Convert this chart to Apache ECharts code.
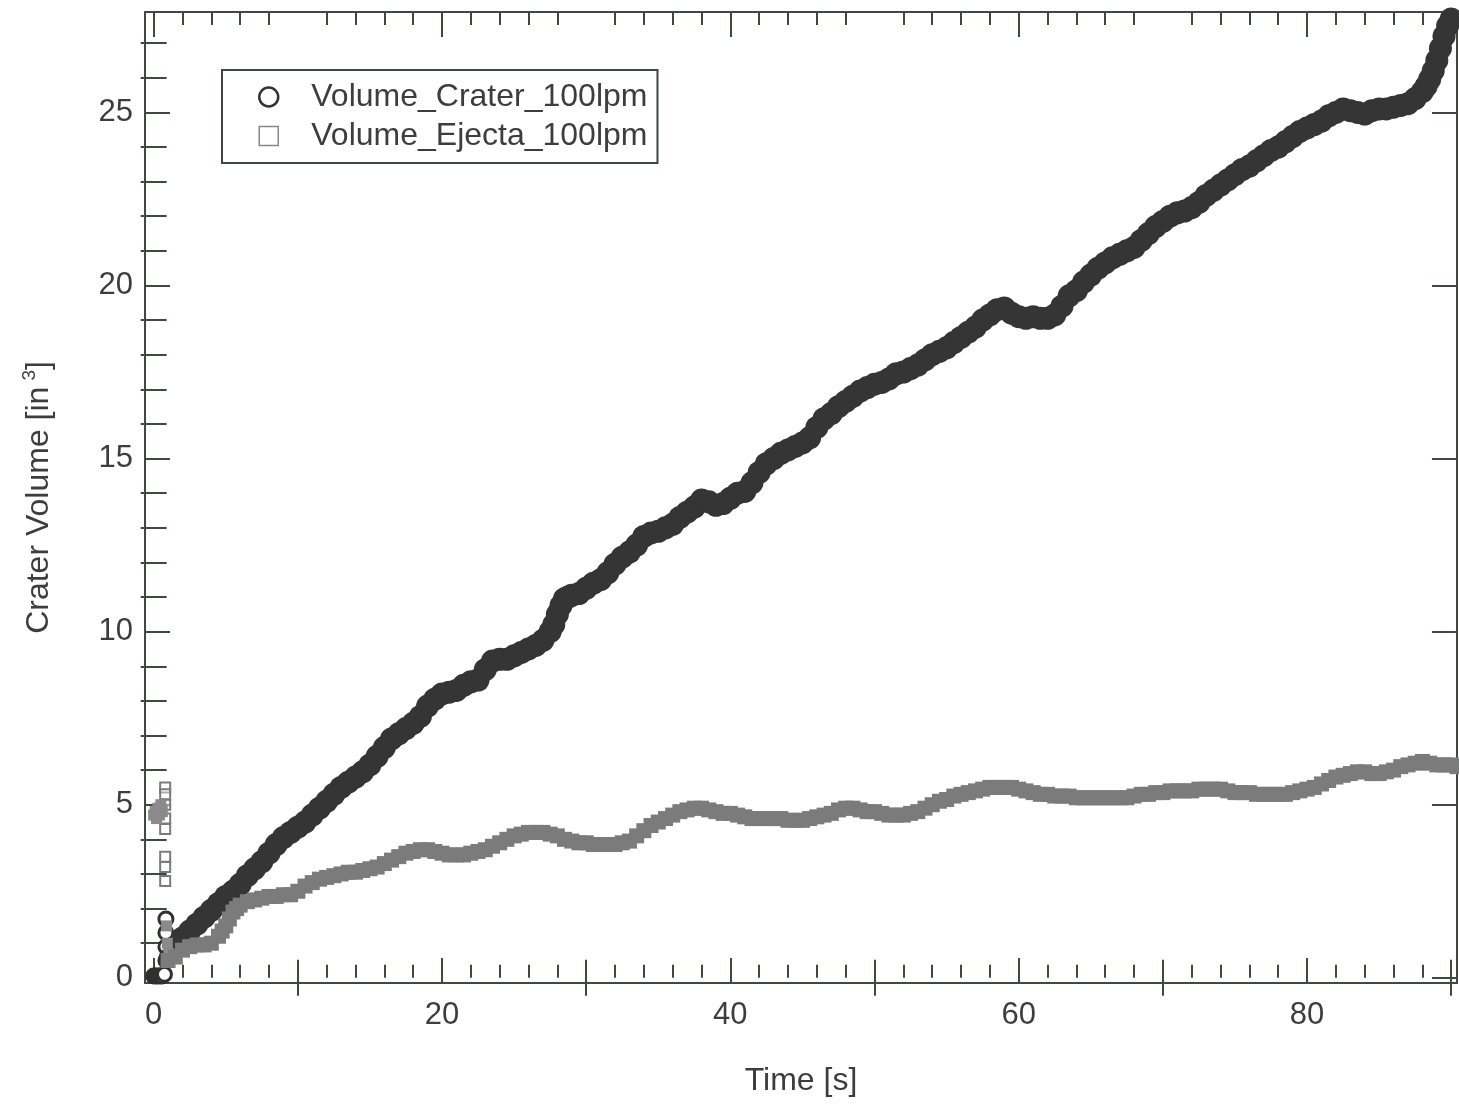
<!DOCTYPE html>
<html>
<head>
<meta charset="utf-8">
<script src="https://cdn.jsdelivr.net/npm/echarts@6/dist/echarts.min.js"></script>
<style>
  html, body { margin: 0; padding: 0; background: #ffffff; }
  #chart { width: 1459px; height: 1104px; }
</style>
</head>
<body>
<div id="chart"></div>
<script>
// first readings near t = 0 (drawn as open markers)
var craterStartT = [0, 0.15, 0.3, 0.45, 0.6, 0.75, 0.85, 0.85, 0.85, 0.85, 0.95];
var craterStartV = [0.05, 0.05, 0.05, 0.05, 0.05, 0.1, 0.5, 0.9, 1.3, 1.7, 0.6];
var ejectaStartT = [0.8, 0.8, 0.8, 0.8, 0.8, 0.8, 0.8, 0.8];
var ejectaStartV = [5.5, 5.3, 5.0, 4.6, 4.3, 3.5, 3.2, 2.8];
// filled cluster just after t = 0
var ejectaClusterT = [0, 0.1, 0.2, 0.3, 0.4, 0.5, 0.6, 0.9, 0.95, 1.05];
var ejectaClusterV = [4.7, 4.8, 4.6, 4.9, 4.7, 5.0, 4.8, 1.5, 1.0, 0.7];

// crater volume readings (time [s], volume [in^3])
var craterT = [1.5, 2, 2.5, 3, 3.5, 4, 4.5, 5, 5.5, 6, 6.5, 7, 7.5, 8, 8.5, 9, 9.5, 10,
  10.5, 11, 11.5, 12, 12.5, 13, 13.5, 14, 14.5, 15, 15.5, 16, 16.5, 17, 17.5, 18, 18.5, 19, 19.5, 20,
  20.5, 21, 21.5, 22, 22.5, 23, 23.5, 24, 24.5, 25, 25.5, 26, 26.5, 27, 27.5, 27.75, 28, 28.25, 28.5, 28.75, 29, 29.5, 30,
  30.5, 31, 31.5, 32, 32.5, 33, 33.5, 34, 34.5, 35, 35.5, 36, 36.5, 37, 37.5, 38, 38.5, 39, 39.5, 40,
  40.5, 41, 41.5, 42, 42.5, 43, 43.5, 44, 44.5, 45, 45.5, 46, 46.5, 47, 47.5, 48, 48.5, 49, 49.5, 50,
  50.5, 51, 51.5, 52, 52.5, 53, 53.5, 54, 54.5, 55, 55.5, 56, 56.5, 57, 57.5, 58, 58.5, 59, 59.5, 60,
  60.5, 61, 61.5, 62, 62.5, 63, 63.5, 64, 64.5, 65, 65.5, 66, 66.5, 67, 67.5, 68, 68.5, 69, 69.5, 70,
  70.5, 71, 71.5, 72, 72.5, 73, 73.5, 74, 74.5, 75, 75.5, 76, 76.5, 77, 77.5, 78, 78.5, 79, 79.5, 80,
  80.5, 81, 81.5, 82, 82.5, 83, 83.5, 84, 84.5, 85, 85.5, 86, 86.5, 87, 87.5, 88, 88.25, 88.5, 88.75,
  89, 89.25, 89.5, 89.75, 90];
var craterV = [0.9, 1.15, 1.35, 1.55, 1.75, 1.95, 2.15, 2.35, 2.5, 2.7, 2.95, 3.15, 3.35, 3.6, 3.85, 4.05, 4.2, 4.35,
  4.5, 4.7, 4.9, 5.1, 5.3, 5.5, 5.65, 5.8, 5.95, 6.15, 6.4, 6.65, 6.9, 7.05, 7.2, 7.35, 7.55, 7.85, 8.05, 8.2,
  8.25, 8.3, 8.45, 8.55, 8.6, 8.9, 9.15, 9.2, 9.2, 9.3, 9.4, 9.5, 9.6, 9.75, 10.0, 10.2, 10.5, 10.75, 10.95, 11.0, 11.05, 11.1, 11.25,
  11.4, 11.5, 11.7, 11.95, 12.15, 12.3, 12.5, 12.75, 12.85, 12.9, 13.0, 13.1, 13.3, 13.45, 13.6, 13.8, 13.75, 13.65, 13.7, 13.85,
  14.0, 14.05, 14.3, 14.6, 14.85, 15.0, 15.15, 15.25, 15.35, 15.45, 15.6, 15.9, 16.15, 16.3, 16.5, 16.65, 16.8, 16.95, 17.05, 17.15,
  17.2, 17.3, 17.45, 17.5, 17.6, 17.7, 17.85, 18.0, 18.1, 18.2, 18.35, 18.5, 18.65, 18.8, 19.0, 19.15, 19.3, 19.35, 19.2, 19.1,
  19.05, 19.1, 19.05, 19.05, 19.15, 19.4, 19.7, 19.85, 20.1, 20.3, 20.5, 20.65, 20.8, 20.9, 21.0, 21.1, 21.3, 21.5, 21.7, 21.85,
  22.0, 22.1, 22.15, 22.25, 22.4, 22.6, 22.75, 22.9, 23.05, 23.2, 23.35, 23.45, 23.6, 23.75, 23.9, 24.0, 24.15, 24.3, 24.45, 24.55,
  24.65, 24.75, 24.9, 25.0, 25.1, 25.05, 25.0, 24.95, 25.05, 25.1, 25.1, 25.15, 25.2, 25.25, 25.4, 25.6, 25.75, 25.95, 26.2,
  26.5, 26.85, 27.2, 27.5, 27.7];

// ejecta volume readings
var ejectaT = [1, 1.5, 2, 2.5, 3, 3.5, 4, 4.5, 4.75, 5, 5.25, 5.5, 5.75, 6, 6.5, 7, 7.5, 8, 8.5, 9, 9.5, 10,
  10.5, 11, 11.5, 12, 12.5, 13, 13.5, 14, 14.5, 15, 15.5, 16, 16.5, 17, 17.5, 18, 18.5, 19, 19.5, 20,
  20.5, 21, 21.5, 22, 22.5, 23, 23.5, 24, 24.5, 25, 25.5, 26, 26.5, 27, 27.5, 28, 28.5, 29, 29.5, 30,
  30.5, 31, 31.5, 32, 32.5, 33, 33.5, 34, 34.5, 35, 35.5, 36, 36.5, 37, 37.5, 38, 38.5, 39, 39.5, 40,
  40.5, 41, 41.5, 42, 42.5, 43, 43.5, 44, 44.5, 45, 45.5, 46, 46.5, 47, 47.5, 48, 48.5, 49, 49.5, 50,
  50.5, 51, 51.5, 52, 52.5, 53, 53.5, 54, 54.5, 55, 55.5, 56, 56.5, 57, 57.5, 58, 58.5, 59, 59.5, 60,
  60.5, 61, 61.5, 62, 62.5, 63, 63.5, 64, 64.5, 65, 65.5, 66, 66.5, 67, 67.5, 68, 68.5, 69, 69.5, 70,
  70.5, 71, 71.5, 72, 72.5, 73, 73.5, 74, 74.5, 75, 75.5, 76, 76.5, 77, 77.5, 78, 78.5, 79, 79.5, 80,
  80.5, 81, 81.5, 82, 82.5, 83, 83.5, 84, 84.5, 85, 85.5, 86, 86.5, 87, 87.5, 88, 88.5, 89, 89.5, 90, 90.4];
var ejectaV = [0.5, 0.6, 0.8, 0.9, 0.95, 0.95, 1.0, 1.2, 1.35, 1.5, 1.7, 1.9, 2.0, 2.1, 2.2, 2.25, 2.3, 2.35, 2.35, 2.4, 2.4, 2.5,
  2.65, 2.75, 2.85, 2.9, 2.95, 3.0, 3.05, 3.05, 3.1, 3.15, 3.2, 3.3, 3.4, 3.5, 3.6, 3.65, 3.7, 3.7, 3.65, 3.6,
  3.55, 3.55, 3.55, 3.6, 3.65, 3.7, 3.8, 3.9, 4.0, 4.1, 4.15, 4.2, 4.2, 4.2, 4.15, 4.1, 4.0, 3.95, 3.9, 3.9,
  3.85, 3.85, 3.85, 3.85, 3.9, 3.95, 4.1, 4.25, 4.4, 4.5, 4.6, 4.7, 4.8, 4.85, 4.9, 4.9, 4.85, 4.8, 4.75, 4.75,
  4.7, 4.65, 4.6, 4.6, 4.6, 4.6, 4.6, 4.55, 4.55, 4.55, 4.6, 4.65, 4.7, 4.75, 4.85, 4.9, 4.9, 4.85, 4.8, 4.8,
  4.75, 4.7, 4.7, 4.7, 4.75, 4.8, 4.9, 5.0, 5.1, 5.15, 5.25, 5.3, 5.35, 5.4, 5.45, 5.5, 5.5, 5.5, 5.5, 5.45,
  5.4, 5.35, 5.3, 5.3, 5.25, 5.25, 5.25, 5.2, 5.2, 5.2, 5.2, 5.2, 5.2, 5.2, 5.2, 5.25, 5.3, 5.3, 5.35, 5.35,
  5.4, 5.4, 5.4, 5.4, 5.45, 5.45, 5.45, 5.45, 5.4, 5.35, 5.35, 5.35, 5.3, 5.3, 5.3, 5.3, 5.3, 5.35, 5.4, 5.45,
  5.5, 5.6, 5.7, 5.8, 5.85, 5.9, 5.95, 5.95, 5.9, 5.9, 5.95, 6.0, 6.1, 6.15, 6.2, 6.25, 6.2, 6.15, 6.15, 6.15, 6.1];

var xLabels = [0, 20, 40, 60, 80];
var xMidTicks = [10, 30, 50, 70, 90];
var xMinorTicks = [2, 4, 6, 8, 12, 14, 16, 18, 22, 24, 26, 28, 32, 34, 36, 38, 42, 44, 46, 48,
  52, 54, 56, 58, 62, 64, 66, 68, 72, 74, 76, 78, 82, 84, 86, 88];
var yLabels = [0, 5, 10, 15, 20, 25];
var yMinorTicks = [1, 2, 3, 4, 6, 7, 8, 9, 11, 12, 13, 14, 16, 17, 18, 19, 21, 22, 23, 24, 26, 27];

var axisColor = '#3c4a40';
var textColor = '#3d3d3d';
var X_MIN = -0.6, X_MAX = 90.4, Y_MIN = -0.15, Y_MAX = 27.9;

function pairs(t, v) {
  var out = [];
  for (var i = 0; i < t.length; i++) out.push([t[i], v[i]]);
  return out;
}
function styledPoints(t, v, style) {
  var out = [];
  for (var i = 0; i < t.length; i++) out.push({ value: [t[i], v[i]], symbolSize: style.size, itemStyle: style.itemStyle });
  return out;
}

function tickAxis(kind, grid, pos, ticks, len, opts) {
  var a = {
    type: 'value', gridIndex: grid, position: pos,
    min: kind === 'x' ? X_MIN : Y_MIN, max: kind === 'x' ? X_MAX : Y_MAX,
    splitLine: { show: false },
    axisLine: { show: false },
    axisLabel: { show: false },
    axisTick: { show: true, inside: true, length: len, customValues: ticks,
      lineStyle: { color: axisColor, width: 2 } }
  };
  return Object.assign(a, opts || {});
}
var frameLine = { show: true, onZero: false, lineStyle: { color: axisColor, width: 2 } };
var gridBox = { left: 145, right: 2, top: 12, bottom: 121, containLabel: false };

var chart = echarts.init(document.getElementById('chart'));
chart.setOption({
  backgroundColor: '#ffffff',
  animation: false,
  textStyle: { fontFamily: 'Liberation Sans, Arial, sans-serif' },
  grid: [gridBox, gridBox, gridBox],
  legend: {
    left: 222, top: 70,
    orient: 'vertical',
    padding: [11, 10, 11, 36],
    itemGap: 7,
    itemWidth: 19, itemHeight: 19,
    borderColor: '#3a4a40', borderWidth: 2,
    backgroundColor: '#ffffff',
    textStyle: { fontSize: 32, color: textColor, padding: [0, 0, 0, 28] },
    data: [
      { name: 'Volume_Crater_100lpm', icon: 'circle',
        itemStyle: { color: 'transparent', borderColor: '#333333', borderWidth: 2.5 } },
      { name: 'Volume_Ejecta_100lpm', icon: 'rect',
        itemStyle: { color: 'transparent', borderColor: '#888888', borderWidth: 1.5 } }
    ]
  },
  xAxis: [
    tickAxis('x', 0, 'bottom', xLabels, 25, {
      axisLine: frameLine,
      axisLabel: { show: true, customValues: xLabels, fontSize: 31, color: textColor, margin: 17 },
      name: 'Time [s]', nameLocation: 'middle', nameGap: 82,
      nameTextStyle: { fontSize: 32, color: textColor }
    }),
    tickAxis('x', 0, 'top', xLabels, 25, { axisLine: frameLine }),
    tickAxis('x', 1, 'bottom', xMidTicks, 18),
    tickAxis('x', 1, 'top', xMidTicks, 18),
    tickAxis('x', 2, 'bottom', xMinorTicks, 13),
    tickAxis('x', 2, 'top', xMinorTicks, 13)
  ],
  yAxis: [
    tickAxis('y', 0, 'left', yLabels, 25, {
      axisLine: frameLine,
      axisLabel: { show: true, customValues: yLabels, fontSize: 31, color: textColor, margin: 12 },
      name: 'Crater Volume [in{sup|3}]', nameLocation: 'middle', nameGap: 86,
      nameTextStyle: { fontSize: 32, color: textColor,
        rich: { sup: { fontSize: 19, color: textColor, padding: [0, 0, 20, 6] } } }
    }),
    tickAxis('y', 0, 'right', yLabels, 25, { axisLine: frameLine }),
    tickAxis('y', 1, 'left', yMinorTicks, 13),
    tickAxis('y', 1, 'right', yMinorTicks, 13),
    tickAxis('y', 2, 'left', [], 0, { show: false })
  ],
  series: [
    {
      name: 'Volume_Crater_100lpm', type: 'scatter',
      xAxisIndex: 0, yAxisIndex: 0,
      symbol: 'circle', symbolSize: 23, clip: false,
      itemStyle: { color: '#353535', opacity: 1 },
      data: styledPoints(craterStartT, craterStartV,
        { size: 14, itemStyle: { color: '#ffffff', borderColor: '#303030', borderWidth: 3 } })
        .concat(pairs(craterT, craterV))
    },
    {
      name: 'Volume_Ejecta_100lpm', type: 'scatter',
      xAxisIndex: 0, yAxisIndex: 0,
      symbol: 'rect', symbolSize: 15, clip: false,
      itemStyle: { color: '#7b7b7b', opacity: 1 },
      data: styledPoints(ejectaStartT, ejectaStartV,
        { size: 10, itemStyle: { color: 'rgba(255,255,255,0.4)', borderColor: '#7b7b7b', borderWidth: 2 } })
        .concat(styledPoints(ejectaClusterT, ejectaClusterV,
        { size: 11, itemStyle: { color: '#8a8a8a' } }))
        .concat(pairs(ejectaT, ejectaV))
    }
  ]
});
</script>
</body>
</html>
